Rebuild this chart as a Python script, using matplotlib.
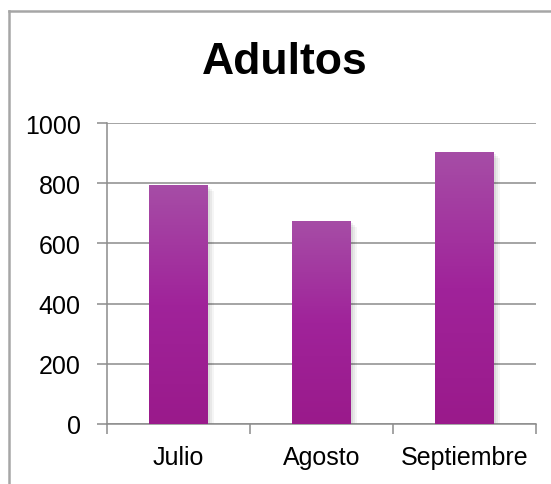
import numpy as np
import matplotlib
matplotlib.use("Agg")
import matplotlib.pyplot as plt
from matplotlib.lines import Line2D
from matplotlib.colors import LinearSegmentedColormap

# ── Data ──────────────────────────────────────────────────────────────────────
meses   = ["Julio", "Agosto", "Septiembre"]
adultos = [793, 674, 903]
yticks  = [0, 200, 400, 600, 800, 1000]

plt.rcParams["font.family"] = ["Liberation Sans", "DejaVu Sans"]

W, H = 551, 485
fig = plt.figure(figsize=(W / 100, H / 100), dpi=100)
ax = fig.add_axes([107 / W, 1 - 425 / H, (536 - 107) / W, (425 - 124) / H])

x = np.arange(len(meses))
bar_w = 0.41
grad = LinearSegmentedColormap.from_list(
    "grad", ["#9a1a8b", "#a0239a", "#a64da6"])

# soft shadow
for k, a in enumerate([0.06, 0.05, 0.04]):
    off = 0.012 * (k + 1)
    ax.bar(x + off, adultos, width=bar_w + 0.01, bottom=-6 * (k + 1),
           color="black", alpha=a, zorder=2, linewidth=0)

bars = ax.bar(x, adultos, width=bar_w, color="#a0239a", zorder=3, linewidth=0)
gimg = np.linspace(0, 1, 256).reshape(-1, 1)
for b in bars:
    x0, y0 = b.get_x(), b.get_y()
    im = ax.imshow(gimg, cmap=grad, aspect="auto", origin="lower",
                   extent=[x0, x0 + b.get_width(), y0, y0 + b.get_height()],
                   zorder=4)
    im.set_clip_path(b)

ax.set_xlim(-0.5, len(meses) - 0.5)
ax.set_ylim(0, 1000)
ax.set_yticks(yticks)
ax.set_yticklabels([str(v) for v in yticks])
ax.yaxis.grid(True, color="#8c8c8c", linewidth=1.1, zorder=0)
ax.set_axisbelow(True)

ax.set_xticks(x)
ax.set_xticklabels(meses)
ax.set_xticks(np.arange(len(meses) + 1) - 0.5, minor=True)
ax.tick_params(axis="x", which="major", length=0, pad=15, labelsize=18)
ax.tick_params(axis="x", which="minor", length=7, width=1.1, color="#8c8c8c")
ax.tick_params(axis="y", length=7, width=1.1, color="#8c8c8c",
               pad=12, labelsize=18)

for s in ["top", "right"]:
    ax.spines[s].set_visible(False)
for s in ["left", "bottom"]:
    ax.spines[s].set_color("#8c8c8c")
    ax.spines[s].set_linewidth(1.1)

fig.text(285 / W, 1 - 63 / H, "Adultos", ha="center", va="center",
         fontsize=32, fontweight="bold")

# chart frame
fig.add_artist(Line2D([8.5 / W, 8.5 / W], [0, 1 - 11.5 / H],
                      transform=fig.transFigure, color="#a6a6a6", lw=1.8))
fig.add_artist(Line2D([8.5 / W, 1], [1 - 11.5 / H, 1 - 11.5 / H],
                      transform=fig.transFigure, color="#a6a6a6", lw=1.8))

fig.savefig("out.png", dpi=100)
